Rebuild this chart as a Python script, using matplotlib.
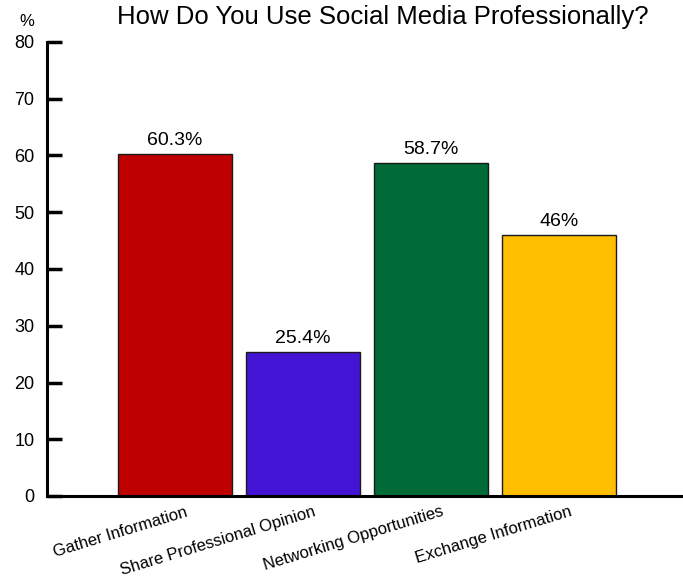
import matplotlib
matplotlib.use("Agg")
import matplotlib.pyplot as plt
from matplotlib import font_manager as fm

names = {f.name for f in fm.fontManager.ttflist}
narrow = 'Liberation Sans Narrow' if 'Liberation Sans Narrow' in names else 'Liberation Sans'
plt.rcParams['font.family'] = [narrow, 'DejaVu Sans']

categories = ["Gather Information", "Share Professional Opinion",
              "Networking Opportunities", "Exchange Information"]
values = [60.3, 25.4, 58.7, 46]
labels = ["60.3%", "25.4%", "58.7%", "46%"]
colors = ["#BF0000", "#4414D4", "#006B36", "#FFBF00"]
yticks = [0, 10, 20, 30, 40, 50, 60, 70, 80]

fig = plt.figure(figsize=(6.83, 5.83), dpi=100)
ax = fig.add_axes([47/683, 1 - 496/583, 1 - 47/683, 454/583])

x = list(range(len(categories)))
bars = ax.bar(x, values, width=114/128, color=colors, edgecolor="#1a1a1a",
              linewidth=1.0, zorder=2)
for xi, v, lab in zip(x, values, labels):
    ax.text(xi, v + 0.9, lab, ha="center", va="bottom", fontsize=14)

ax.set_xlim(-1.0, 3.97)
ax.set_ylim(0, 80)
ax.set_yticks(yticks)
ax.set_yticklabels([str(t) for t in yticks], fontsize=13)
ax.tick_params(axis="y", direction="in", length=11, width=2.5, pad=9)
ax.set_xticks([xi + 0.08 for xi in x])
ax.set_xticklabels(categories, rotation=17, ha="right", rotation_mode="anchor",
                   fontsize=12)
ax.tick_params(axis="x", length=0, pad=6)
for s in ["top", "right"]:
    ax.spines[s].set_visible(False)
ax.spines["left"].set_linewidth(2.2)
ax.spines["bottom"].set_linewidth(2.2)

fig.text(27/683, 1 - 22/583, "%", ha="center", va="center", fontsize=12)
fig.text(383/683, 1 - 17/583, "How Do You Use Social Media Professionally?",
         ha="center", va="center", fontsize=18.5)

fig.savefig("out.png", dpi=100)
